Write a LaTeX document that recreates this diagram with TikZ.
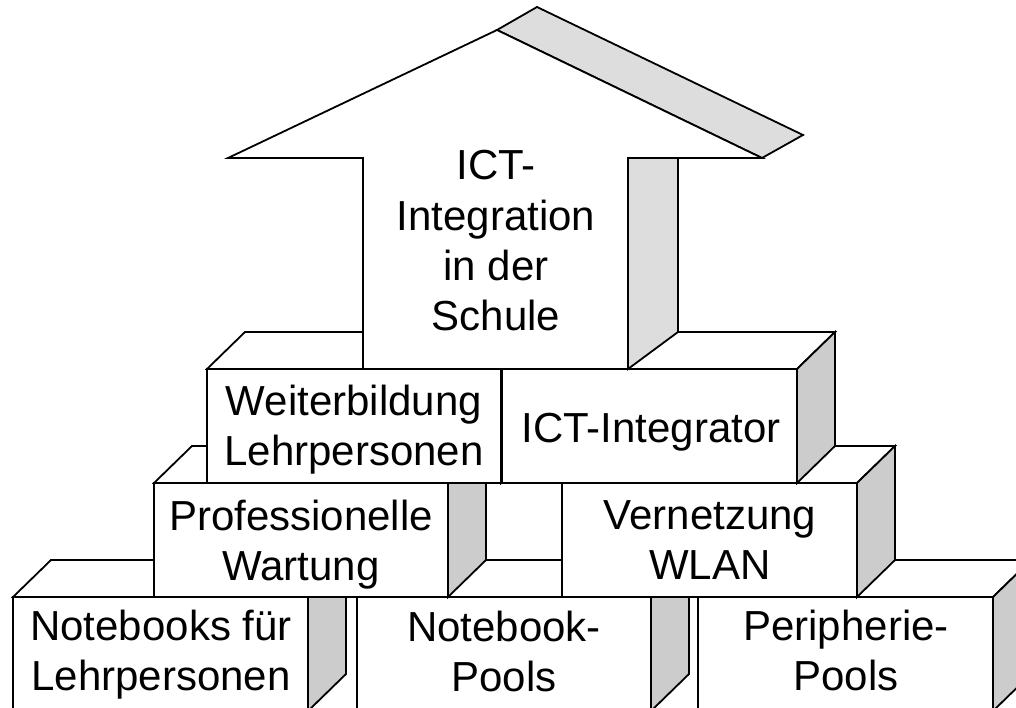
\documentclass[tikz,border=0pt]{standalone}
\usepackage{fontspec}
\setmainfont{Liberation Sans}
\definecolor{boxside}{RGB}{204,204,204}
\definecolor{arrowside}{RGB}{221,221,221}
\tikzset{
  face/.style={draw=black, line width=1.8pt, fill=white},
  boxsideface/.style={draw=black, line width=1.8pt, fill=boxside},
  arrowsideface/.style={draw=black, line width=1.8pt, fill=arrowside},
  lbl/.style={align=center, inner sep=0pt, font=\fontsize{42}{50}\selectfont}
}
% #1 = left x, #2 = right x, #3 = top y, #4 = bottom y (front face)
\newcommand\cubebox[4]{%
  \path[face] (#1,#3) -- (#1+38,#3-37) -- (#2+38,#3-37) -- (#2,#3) -- cycle;
  \path[boxsideface] (#2,#3) -- (#2+38,#3-37) -- (#2+38,#4-37) -- (#2,#4) -- cycle;
  \path[face] (#1,#3) rectangle (#2,#4);
}
\begin{document}
\begin{tikzpicture}[x=1pt, y=-1pt]
\clip (0,0) rectangle (1016,708);
\fill[white] (0,0) rectangle (1016,708);
% bottom row
\cubebox{13}{308}{597}{711}
\cubebox{357}{651}{597}{711}
\cubebox{698}{993}{597}{711}
% middle row
\cubebox{154}{448}{483}{597}
\cubebox{562}{857}{483}{597}
% top row
\cubebox{207}{501}{369}{483}
\cubebox{502}{797}{369}{483}
% arrow
\path[arrowsideface] (497,30) -- (537,7) -- (803,135) -- (762,158) -- cycle;
\path[arrowsideface] (628,158) -- (678,158) -- (678,332) -- (628,369) -- cycle;
\path[face] (228,158) -- (497,30) -- (762,158) -- (628,158) -- (628,369)
  -- (363,369) -- (363,158) -- cycle;
% labels
\node[lbl] (ict) at (496,245) {\strut ICT-\\\strut Integration\\\strut in der\\\strut Schule};
\node[lbl] (weiter) at (354,430) {\strut Weiterbildung\\\strut Lehrpersonen};
\node[lbl] (integrator) at (651,432) {\strut ICT-Integrator};
\node[lbl] (wartung) at (301,545) {\strut Professionelle\\\strut Wartung};
\node[lbl] (wlan) at (710,544) {\strut Vernetzung\\\strut WLAN};
\node[lbl] (nblp) at (161,655) {\strut Notebooks für\\\strut Lehrpersonen};
\node[lbl] (nbpools) at (504,656) {\strut Notebook-\\\strut Pools};
\node[lbl] (peri) at (846,655) {\strut Peripherie-\\\strut Pools};
\end{tikzpicture}
\end{document}
